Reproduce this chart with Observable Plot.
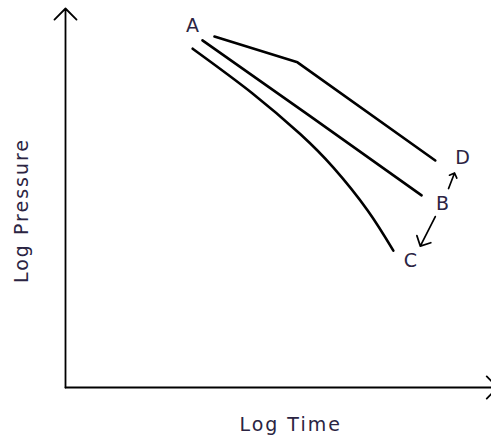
<!DOCTYPE html>
<html>
<head>
<meta charset="utf-8">
<script src="https://cdn.jsdelivr.net/npm/d3@7"></script>
<script src="https://cdn.jsdelivr.net/npm/@observablehq/plot@0.6"></script>
<style>
  html, body { margin: 0; padding: 0; background: #fff; }
</style>
</head>
<body>
<div id="chart"></div>
<script>
// Schematic curves (log time, log pressure in arbitrary units 0..100)
const lineD = [
  {t: 34.8, p: 92.6}, {t: 54.2, p: 85.8}, {t: 86.4, p: 59.9}
];
const lineB = [
  {t: 32.0, p: 91.6}, {t: 56.9, p: 71.8}, {t: 83.2, p: 50.7}
];
const lineC = [
  {t: 29.7, p: 89.4}, {t: 43.7, p: 77.6}, {t: 54.9, p: 66.8},
  {t: 62.6, p: 58.0}, {t: 70.6, p: 46.7}, {t: 76.6, p: 36.1}
];
const pointLabels = [
  {label: "A", t: 29.7, p: 95.3},
  {label: "D", t: 92.8, p: 60.7},
  {label: "B", t: 88.1, p: 48.5},
  {label: "C", t: 80.6, p: 33.5}
];
const smallArrows = [
  {t1: 89.5, p1: 52.5, t2: 90.9, p2: 56.6},
  {t1: 86.4, p1: 45.1, t2: 82.9, p2: 37.3}
];
const axisArrows = [
  {t1: 0, p1: 0, t2: 0, p2: 100},
  {t1: 0, p1: 0, t2: 101, p2: 0}
];
const axisTitles = [
  {label: "Log Time", t: 52.6, p: -10, rotate: 0},
  {label: "Log Pressure", t: -10.2, p: 46.7, rotate: -90}
];

const textColor = "#2b2442";
const font = "'DejaVu Sans', sans-serif";

const chart = Plot.plot({
  width: 491,
  height: 439,
  margin: 0,
  x: {domain: [0, 100], range: [65, 493], axis: null},
  y: {domain: [0, 100], range: [387, 8], axis: null},
  style: {fontFamily: font, background: "#fff", overflow: "visible"},
  marks: [
    Plot.arrow(axisArrows, {x1: "t1", y1: "p1", x2: "t2", y2: "p2", stroke: "#000", strokeWidth: 1.8, headLength: 13, headAngle: 90}),
    Plot.line(lineD, {x: "t", y: "p", stroke: "#000", strokeWidth: 2.6}),
    Plot.line(lineB, {x: "t", y: "p", stroke: "#000", strokeWidth: 2.6}),
    Plot.line(lineC, {x: "t", y: "p", stroke: "#000", strokeWidth: 2.6, curve: "natural"}),
    Plot.arrow(smallArrows, {x1: "t1", y1: "p1", x2: "t2", y2: "p2", stroke: "#000", strokeWidth: 1.7, headLength: 11, headAngle: 90}),
    Plot.text(pointLabels, {x: "t", y: "p", text: "label", fill: textColor, fontSize: 19}),
    Plot.text(axisTitles, {x: "t", y: "p", text: "label", rotate: "rotate", fill: textColor, fontSize: 19})
  ]
});
const textGroups = chart.querySelectorAll('g[aria-label="text"]');
const titleGroup = textGroups[textGroups.length - 1];
titleGroup.style.letterSpacing = "2px";
document.getElementById("chart").appendChild(chart);
</script>
</body>
</html>
